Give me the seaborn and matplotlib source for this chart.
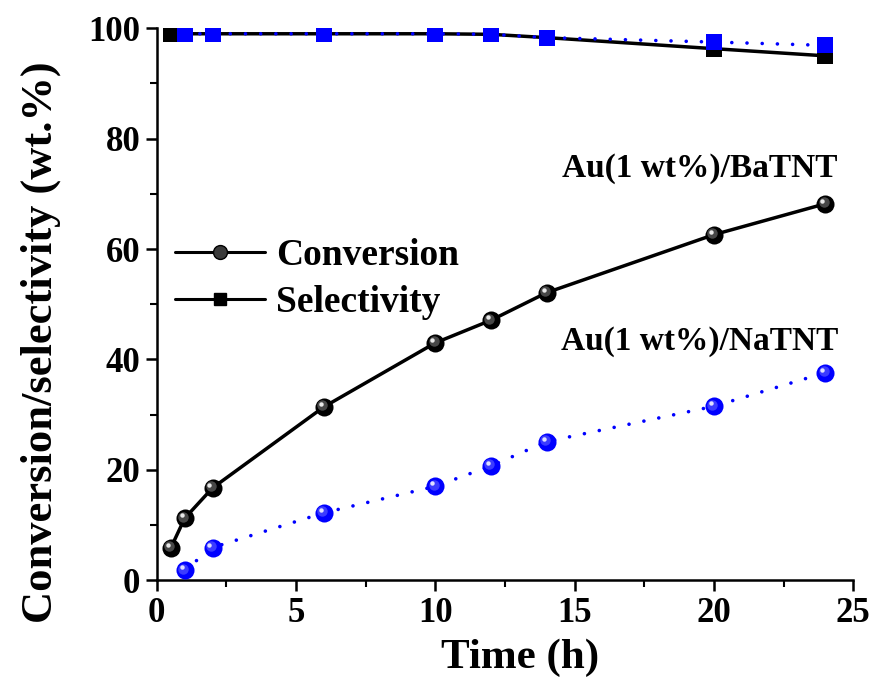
import matplotlib
matplotlib.use("Agg")
import matplotlib.pyplot as plt
import matplotlib.transforms as mtransforms
from matplotlib.lines import Line2D
from matplotlib.ticker import MultipleLocator
import seaborn as sns
import pandas as pd

# ---- data ----
time_ba = [0.5, 1, 2, 6, 10, 12, 14, 20, 24]
conv_ba = [5.8, 11.2, 16.7, 31.4, 43.0, 47.1, 52.1, 62.6, 68.2]
sel_ba = [99.0, 99.0, 99.0, 99.0, 99.0, 98.9, 98.3, 96.3, 95.0]

time_na = [1, 2, 6, 10, 12, 14, 20, 24]
conv_na = [1.8, 5.9, 12.2, 17.0, 20.7, 25.1, 31.5, 37.6]
sel_na = [99.0, 99.0, 99.0, 99.0, 98.9, 98.3, 97.5, 96.9]

label_ba = "Au(1 wt%)/BaTNT"
label_na = "Au(1 wt%)/NaTNT"
xlabel = "Time (h)"
ylabel = "Conversion/selectivity (wt.%)"
legend_labels = ["Conversion", "Selectivity"]

df_ba = pd.DataFrame({"t": time_ba, "conv": conv_ba, "sel": sel_ba})
df_na = pd.DataFrame({"t": time_na, "conv": conv_na, "sel": sel_na})

sns.set_theme(style="ticks")
plt.rcParams["font.family"] = ["Liberation Serif", "DejaVu Serif"]
plt.rcParams["font.weight"] = "bold"
for k in ["text.color", "axes.labelcolor", "xtick.color", "ytick.color",
          "xtick.labelcolor", "ytick.labelcolor", "axes.edgecolor"]:
    plt.rcParams[k] = "black"

fig = plt.figure(figsize=(8.76, 6.89), dpi=100)
ax = fig.add_axes([0.179, 0.158, 0.795, 0.801])

BLUE = "#0000ff"
DOTS = (0, (0.01, 4.2))

# black selectivity (solid)
sns.lineplot(data=df_ba, x="t", y="sel", ax=ax, color="black", lw=2.5,
             marker="s", markersize=11.5, markeredgewidth=0, zorder=3)
# blue selectivity (dotted)
sns.lineplot(data=df_na, x="t", y="sel", ax=ax, color=BLUE, lw=2.6,
             linestyle=DOTS, dash_capstyle="round",
             marker="s", markersize=11.5, markeredgewidth=0, zorder=4)
# black conversion (solid)
sns.lineplot(data=df_ba, x="t", y="conv", ax=ax, color="black", lw=2.5,
             marker="o", markersize=13, markeredgewidth=0, zorder=3)
# blue conversion (dotted)
sns.lineplot(data=df_na, x="t", y="conv", ax=ax, color=BLUE, lw=2.6,
             linestyle=DOTS, dash_capstyle="round",
             marker="o", markersize=13, markeredgewidth=0, zorder=3)

# sphere shading highlights
def highlight(df, mid, light):
    off1 = mtransforms.offset_copy(ax.transData, fig=fig, x=-1.2, y=1.2, units="points")
    off2 = mtransforms.offset_copy(ax.transData, fig=fig, x=-2.2, y=2.2, units="points")
    ax.plot(df["t"], df["conv"], ls="none", marker="o", ms=7.5, mew=0,
            color=mid, alpha=0.8, transform=off1, zorder=5)
    ax.plot(df["t"], df["conv"], ls="none", marker="o", ms=3.2, mew=0,
            color=light, transform=off2, zorder=6)

highlight(df_ba, "#5a5a5a", "#e8e8e8")
highlight(df_na, "#4a4aff", "#e0e0ff")

ax.set_xlim(0, 25)
ax.set_ylim(0, 100)
ax.xaxis.set_major_locator(MultipleLocator(5))
ax.xaxis.set_minor_locator(MultipleLocator(2.5))
ax.yaxis.set_major_locator(MultipleLocator(20))
ax.yaxis.set_minor_locator(MultipleLocator(10))
ax.tick_params(which="major", direction="out", length=8, width=1.8, labelsize=25, pad=4,
               colors="black")
ax.tick_params(which="minor", direction="out", length=5, width=1.5, colors="black")
for lab in ax.get_xticklabels() + ax.get_yticklabels():
    lab.set_fontweight("bold")
for s in ["top", "right"]:
    ax.spines[s].set_visible(False)
for s in ["left", "bottom"]:
    ax.spines[s].set_linewidth(1.8)
    ax.spines[s].set_color("black")

ax.set_xlabel(xlabel, fontsize=31, fontweight="bold", color="black")
ax.set_ylabel(ylabel, fontsize=32, fontweight="bold", color="black")
ax.xaxis.set_label_coords(0.5216, -0.105)
ax.yaxis.set_label_coords(-0.138, 0.431)

ax.text(24.45, 74.5, label_ba, ha="right", va="center", fontsize=24, fontweight="bold")
ax.text(24.45, 43.3, label_na, ha="right", va="center", fontsize=24, fontweight="bold")

handles = [
    Line2D([], [], color="black", lw=2.2, marker="o", ms=10, mfc="#3a3a3a", mec="black", mew=1),
    Line2D([], [], color="black", lw=2.2, marker="s", ms=9, mfc="black", mec="black"),
]
leg = ax.legend(handles, legend_labels, loc="center left", bbox_to_anchor=(0.026, 0.545),
                frameon=False, handlelength=2.4, handletextpad=0.3,
                labelspacing=0.32, borderpad=0, borderaxespad=0,
                prop={"weight": "bold", "size": 27})

fig.savefig("out.png", dpi=100, facecolor="white")
